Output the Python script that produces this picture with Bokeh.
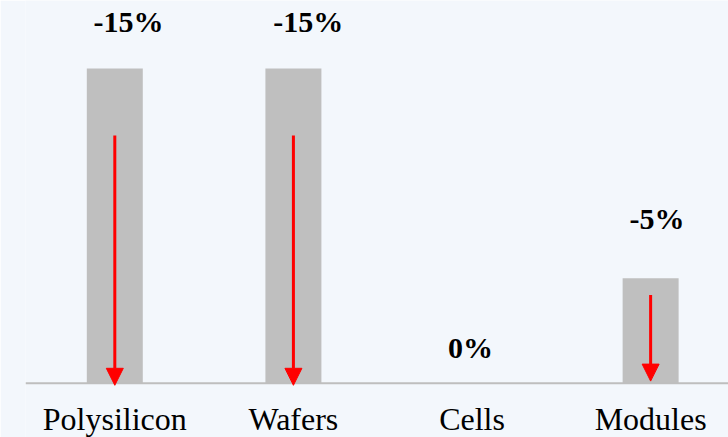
from bokeh.plotting import figure
from bokeh.models import ColumnDataSource, Span, Arrow, NormalHead, Range1d
from bokeh.core.properties import value
from bokeh.embed import file_html
from bokeh.resources import INLINE

# ---- data ----
categories = ["Polysilicon", "Wafers", "Cells", "Modules"]
price_change_pct = [-15, -15, 0, -5]
change_labels = ["-15%", "-15%", "0%", "-5%"]
# arrows drawn inside the bars (value units, from -> to)
arrow_categories = ["Polysilicon", "Wafers", "Modules"]
arrow_from = [11.8, 11.8, 4.2]
arrow_to = [-0.1, -0.1, 0.1]

# ---- styles ----
BG = "#F3F7FC"
BAR = "#BFBFBF"
SERIF = "Liberation Serif"
label_dx = [13.7, 14.8, -1.5, 6.4]      # px
label_dy = [-47, -47, -36, -60]         # px (negative = up)
cat_dy = 35.5                           # px below baseline

xs = list(range(len(categories)))
heights = [abs(v) for v in price_change_pct]

bar_src = ColumnDataSource(dict(x=xs, h=heights, label=change_labels,
                                dx=label_dx, dy=label_dy,
                                cat=categories, zero=[0] * len(xs)))
arr_x = [categories.index(c) for c in arrow_categories]
arr_src = ColumnDataSource(dict(x=arr_x, y0=arrow_from, y1=arrow_to))

p = figure(width=728, height=437,
           x_range=Range1d(-0.5, 3.436), y_range=Range1d(-2.588, 18.24),
           output_backend="svg", toolbar_location=None,
           min_border_left=25, min_border_right=0,
           min_border_top=0, min_border_bottom=0)

p.background_fill_color = BG
p.border_fill_color = BG
p.outline_line_color = None
p.grid.visible = False
p.xaxis.visible = False
p.yaxis.visible = False

p.vbar(x="x", top="h", bottom=0, width=0.3135, fill_color=BAR,
       line_color=None, source=bar_src)

p.add_layout(Span(location=0, dimension="width", line_color="#BEBEBE",
                  line_width=2))

p.add_layout(Arrow(end=NormalHead(size=17, fill_color="#FF0000",
                                  line_color="#FF0000", line_width=1),
                   x_start="x", y_start="y0", x_end="x", y_end="y1",
                   source=arr_src, line_color="#FF0000", line_width=3))

# value labels above bars
p.text(x="x", y="h", text="label", x_offset="dx", y_offset="dy",
       text_font=value(SERIF), text_font_style="bold",
       text_font_size="30px", text_color="#000000",
       text_align="center", text_baseline="alphabetic", source=bar_src)

# category labels below the baseline
p.text(x="x", y="zero", text="cat", y_offset=cat_dy,
       text_font=value(SERIF), text_font_size="32px", text_color="#000000",
       text_align="center", text_baseline="alphabetic", source=bar_src)

open("out.html", "w").write(file_html(p, INLINE))
